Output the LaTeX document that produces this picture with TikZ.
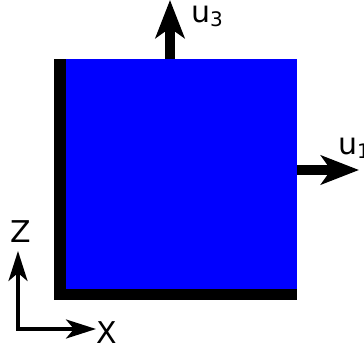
\documentclass[tikz,border=0pt]{standalone}
\usepackage{fontspec}
\setmainfont{DejaVu Sans}
\usepackage{tikz}
\usetikzlibrary{arrows.meta, positioning, calc}

\newcommand{\sublab}[2]{#1\raisebox{-0.3ex}{\fontsize{20}{20}\selectfont #2}}

\begin{document}
\begin{tikzpicture}[x=1pt, y=-1pt, line join=miter,
    lab/.style={font=\fontsize{30}{34}\selectfont, inner sep=0pt, anchor=base west},
    bigarrow/.style={line width=10pt, -{Stealth[length=38pt, width=29pt, inset=10pt]}},
    axarrow/.style={line width=3.5pt, -{Stealth[length=30pt, width=19pt, inset=8pt]}}]
    \useasboundingbox (0,0) rectangle (364,351);
    % Quadrat
    \coordinate (SQtl) at (66,59);
    \coordinate (SQbr) at (297,289);
    \fill[blue] (SQtl) rectangle (SQbr);
    % schwarze Kanten links und unten
    \fill[black] (54,59) rectangle (66,300);
    \fill[black] (54,289) rectangle (297,300);
    % Verschiebungen
    \coordinate (U3a) at (170,59);
    \coordinate (U3b) at (170,0);
    \coordinate (U1a) at (297,170);
    \coordinate (U1b) at (359,170);
    \draw[bigarrow] (U3a) -- (U3b);
    \draw[bigarrow] (U1a) -- (U1b);
    \node[lab] (u3) at (191,22) {\sublab{u}{3}};
    \node[lab] (u1) at (338,154) {\sublab{u}{1}};
    % Koordinatensystem
    \coordinate (O) at (18,329);
    \coordinate (Zt) at (18,251);
    \coordinate (Xt) at (96,329);
    \draw[axarrow] (O) -- (Zt);
    \draw[axarrow] ($(O)+(-1.75,0)$) -- (Xt);
    \node[lab] (zl) at (10,242) {Z};
    \node[lab] (xl) at (96,343) {X};
\end{tikzpicture}
\end{document}
